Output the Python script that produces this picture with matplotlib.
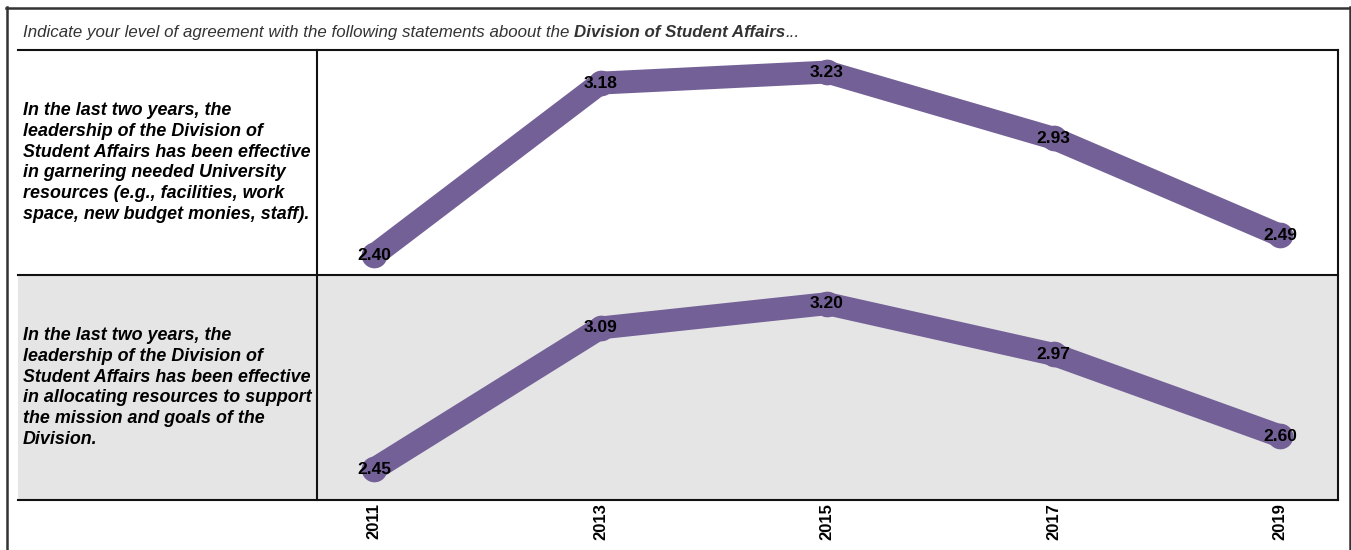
import matplotlib
matplotlib.use("Agg")
import matplotlib.pyplot as plt
from matplotlib.lines import Line2D
from matplotlib.patches import Rectangle

years = ["2011", "2013", "2015", "2017", "2019"]
resources_values = [2.40, 3.18, 3.23, 2.93, 2.49]
allocating_values = [2.45, 3.09, 3.20, 2.97, 2.60]
row_labels = [
    "In the last two years, the\nleadership of the Division of\nStudent Affairs has been effective\nin garnering needed University\nresources (e.g., facilities, work\nspace, new budget monies, staff).",
    "In the last two years, the\nleadership of the Division of\nStudent Affairs has been effective\nin allocating resources to support\nthe mission and goals of the\nDivision.",
]
series = [resources_values, allocating_values]

W, H = 1351, 550
fig = plt.figure(figsize=(W / 100, H / 100), dpi=100)
FONT = ["Liberation Sans", "DejaVu Sans"]
PURPLE = "#736096"
GRAY = "#e5e5e5"

def fx(px):
    return px / W

def fy(py):
    return 1 - py / H

# outer border
for (x0, y0, x1, y1) in [(6.5, 7, 6.5, 552), (6, 7.5, 1350, 7.5), (1349.5, 7, 1349.5, 552)]:
    fig.add_artist(Line2D([fx(x0), fx(x1)], [fy(y0), fy(y1)], color="#333333", lw=1.8))

# gray background for second row
fig.add_artist(Rectangle((fx(18), fy(500)), fx(1338) - fx(18), fy(275) - fy(500),
                         facecolor=GRAY, edgecolor="none", zorder=0))

# title
TS = 12.15
TY = 32.5
fig.text(fx(23), fy(TY), "Indicate your level of agreement with the following statements aboout the ",
         fontsize=TS, style="italic", color="#333333", family=FONT, va="center", ha="left")
t = fig.texts[-1]
fig.canvas.draw()
bb = t.get_window_extent()
fig.text(bb.x1 / W, fy(TY), "Division of Student Affairs", fontsize=TS, style="italic",
         weight="bold", color="#333333", family=FONT, va="center", ha="left")
fig.canvas.draw()
bb2 = fig.texts[-1].get_window_extent()
fig.text(bb2.x1 / W, fy(TY), "...", fontsize=TS, style="italic", color="#333333",
         family=FONT, va="center", ha="left")

rows = [(50, 275), (275, 500)]
xs = list(range(len(years)))
axes = []
for i, ((top, bot), vals, lab) in enumerate(zip(rows, series, row_labels)):
    ax = fig.add_axes([fx(317), fy(bot), fx(1338) - fx(317), fy(top) - fy(bot)])
    ax.set_facecolor("none")
    ax.plot(xs, vals, color=PURPLE, lw=16.5, solid_capstyle="round", solid_joinstyle="round",
            marker="o", markersize=18.5, markeredgewidth=0, zorder=2)
    for x, v in zip(xs, vals):
        ax.text(x, v, f"{v:.2f}", ha="center", va="center", fontsize=12.5, weight="bold",
                family=FONT, color="black", zorder=3)
    ax.set_xlim(-0.252, 4.256)
    ax.set_ylim(2.31, 3.33)
    for s in ax.spines.values():
        s.set_visible(False)
    ax.set_yticks([])
    ax.set_xticks(xs)
    if i == 1:
        ax.set_xticklabels(years, rotation=90, fontsize=12, weight="bold", family=FONT)
        ax.tick_params(axis="x", length=0, pad=2)
    else:
        ax.set_xticklabels([])
        ax.tick_params(axis="x", length=0)
    fig.text(fx(23), fy((top + bot) / 2), lab, fontsize=12.85, style="italic", weight="bold",
             family=FONT, va="center", ha="left", linespacing=1.3)
    axes.append(ax)

# table lines
lc = "#111111"
for y in (50, 275, 500):
    fig.add_artist(Line2D([fx(18), fx(1338)], [fy(y), fy(y)], color=lc, lw=1.5, zorder=5))
for x in (317, 1338):
    fig.add_artist(Line2D([fx(x), fx(x)], [fy(50), fy(500)], color=lc, lw=1.5, zorder=5))

fig.savefig("out.png", dpi=100)
